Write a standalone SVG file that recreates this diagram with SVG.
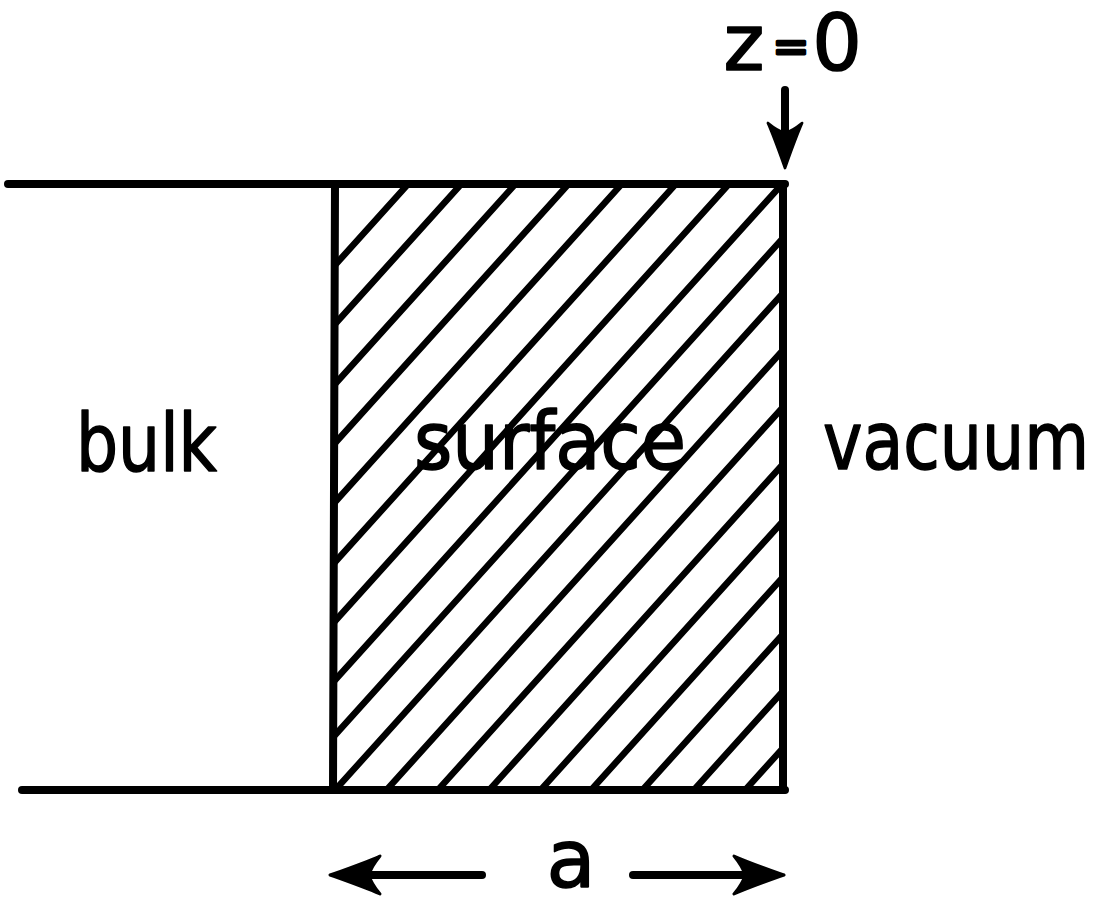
<svg xmlns="http://www.w3.org/2000/svg" width="1109" height="898" viewBox="0 0 1109 898">
<style>
.frame{stroke:#000;stroke-width:8;stroke-linecap:round;fill:none}
.hatch{stroke:#000;stroke-width:6.5;stroke-linecap:round}
.lbl{font-family:"DejaVu Sans","Liberation Sans",sans-serif;font-size:80px;fill:#000;stroke:#000;stroke-width:1.6px;stroke-linejoin:round}
.eq{font-size:44px;stroke-width:3px}
.big{font-size:78px}
.arrowline{stroke:#000;stroke-width:8;stroke-linecap:round;fill:none}
</style>
<defs>
<clipPath id="surfClip"><rect x="335" y="184" width="448" height="606"/></clipPath>
<path id="head" d="M0,0 C-14,-5 -34,-12 -50,-19 Q-41,-8 -39,0 Q-41,8 -50,19 C-34,12 -14,5 0,0 Z" fill="#000" stroke="#000" stroke-width="3" stroke-linejoin="round"/>
</defs>
<g id="frame">
<line class="frame" x1="8" y1="184" x2="785" y2="184"/>
<line class="frame" x1="22" y1="790" x2="785" y2="790"/>
<line class="frame" x1="335" y1="184" x2="333" y2="790"/>
<line class="frame" x1="783" y1="184" x2="783" y2="790"/>
</g>
<g id="surface-hatch" clip-path="url(#surfClip)">
<line class="hatch" x1="300" y1="304" x2="820" y2="-273"/>
<line class="hatch" x1="300" y1="363" x2="820" y2="-214"/>
<line class="hatch" x1="300" y1="423" x2="820" y2="-154"/>
<line class="hatch" x1="300" y1="482" x2="820" y2="-95"/>
<line class="hatch" x1="300" y1="541" x2="820" y2="-36"/>
<line class="hatch" x1="300" y1="601" x2="820" y2="24"/>
<line class="hatch" x1="300" y1="660" x2="820" y2="83"/>
<line class="hatch" x1="300" y1="719" x2="820" y2="142"/>
<line class="hatch" x1="300" y1="774" x2="820" y2="197"/>
<line class="hatch" x1="300" y1="829" x2="820" y2="252"/>
<line class="hatch" x1="300" y1="886" x2="820" y2="309"/>
<line class="hatch" x1="300" y1="943" x2="820" y2="366"/>
<line class="hatch" x1="300" y1="1000" x2="820" y2="423"/>
<line class="hatch" x1="300" y1="1057" x2="820" y2="480"/>
<line class="hatch" x1="300" y1="1113" x2="820" y2="536"/>
<line class="hatch" x1="300" y1="1170" x2="820" y2="593"/>
<line class="hatch" x1="300" y1="1227" x2="820" y2="650"/>
<line class="hatch" x1="300" y1="1284" x2="820" y2="707"/>
</g>
<g id="bulk"><text class="lbl" x="76" y="471" textLength="141" lengthAdjust="spacingAndGlyphs">bulk</text></g>
<g id="surface"><text class="lbl" x="414" y="469" textLength="272" lengthAdjust="spacingAndGlyphs">surface</text></g>
<g id="vacuum"><text class="lbl" x="823" y="469" textLength="266" lengthAdjust="spacingAndGlyphs">vacuum</text></g>
<g id="z0-label">
<text class="lbl big" x="744" y="70" text-anchor="middle">z</text>
<text class="lbl eq" x="791" y="62" text-anchor="middle">=</text>
<text class="lbl big" x="837" y="70" text-anchor="middle">0</text>
</g>
<g id="a-label"><text class="lbl" x="571" y="887" text-anchor="middle">a</text></g>
<g id="connectors">
<line class="arrowline" x1="785" y1="90" x2="785" y2="150"/>
<use href="#head" transform="translate(785,168) rotate(90) scale(0.9)"/>
<line class="arrowline" x1="360" y1="875" x2="482" y2="875"/>
<use href="#head" transform="translate(330,875) rotate(180)"/>
<line class="arrowline" x1="633" y1="875" x2="755" y2="875"/>
<use href="#head" transform="translate(784,875)"/>
</g>
</svg>
